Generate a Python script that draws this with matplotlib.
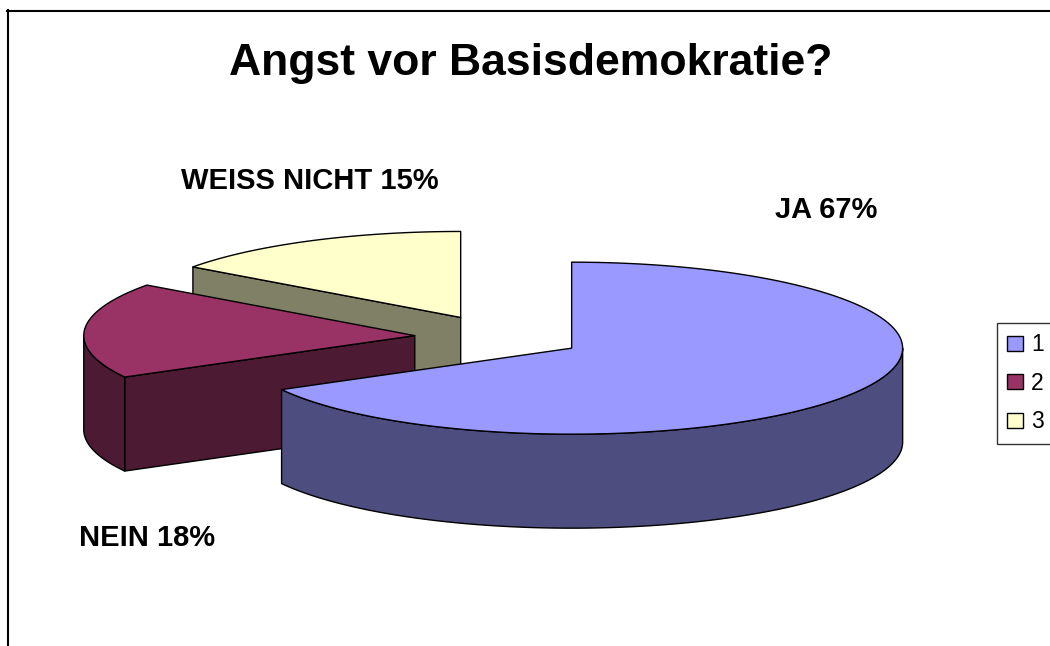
import numpy as np
import matplotlib.pyplot as plt
from matplotlib.patches import Polygon, Patch
from matplotlib.lines import Line2D

plt.rcParams['font.family'] = ['Liberation Sans', 'DejaVu Sans']

# data
categories = ['1', '2', '3']
answers = ['JA', 'NEIN', 'WEISS NICHT']
shares = [67, 18, 15]
top_colors = ['#9999FF', '#993366', '#FFFFCC']

W, H = 1050, 646
cx, cy, scale = 499, 337, 331      # pie centre and radius in pixels
ry = 86 / 331                      # vertical squash of the ellipse
depth = 94 / 331                   # thickness of the pie
explode = 0.255


def darker(c, f=0.5):
    r, g, b = [int(c[i:i + 2], 16) for i in (1, 3, 5)]
    return (r * f / 255, g * f / 255, b * f / 255)


def pt(a, ox, oy, z=0.0):
    t = np.radians(a)
    return (ox + np.sin(t), oy + np.cos(t) * ry - z)


def arc(a0, a1, ox, oy, z=0.0, n=120):
    angs = np.linspace(a0, a1, n)
    return [pt(a, ox, oy, z) for a in angs]


fig = plt.figure(figsize=(W / 100, H / 100), dpi=100)
ax = fig.add_axes([0, 0, 1, 1])
ax.set_xlim(-cx / scale, (W - cx) / scale)
ax.set_ylim(-(H - cy) / scale, cy / scale)
ax.axis('off')

total = sum(shares)
bounds = np.concatenate([[0], np.cumsum(shares) / total * 360])
slices = []
for i in range(len(shares)):
    a0, a1 = bounds[i], bounds[i + 1]
    m = np.radians((a0 + a1) / 2)
    ox, oy = explode * np.sin(m), explode * np.cos(m) * ry
    slices.append((oy, i, a0, a1, ox))

# paint back to front
for oy, i, a0, a1, ox in sorted(slices, reverse=True):
    side = darker(top_colors[i])
    kw = dict(edgecolor='black', linewidth=1.0, joinstyle='round')
    apex_t = (ox, oy)
    apex_b = (ox, oy - depth)
    # radial cut faces facing the viewer
    if np.sin(np.radians(a0)) < -1e-6:
        e_t = pt(a0, ox, oy)
        e_b = pt(a0, ox, oy, depth)
        ax.add_patch(Polygon([apex_t, e_t, e_b, apex_b], facecolor=side, **kw))
    if np.sin(np.radians(a1)) > 1e-6:
        e_t = pt(a1, ox, oy)
        e_b = pt(a1, ox, oy, depth)
        ax.add_patch(Polygon([apex_t, e_t, e_b, apex_b], facecolor=side, **kw))
    # outer wall, front half only
    s0, s1 = max(a0, 90), min(a1, 270)
    if s1 > s0:
        wall = arc(s0, s1, ox, oy) + arc(s1, s0, ox, oy, depth)
        ax.add_patch(Polygon(wall, facecolor=side, **kw))
    # top face
    top = [apex_t] + arc(a0, a1, ox, oy)
    ax.add_patch(Polygon(top, facecolor=top_colors[i], **kw))

# title and data labels
fig.text(531 / W, 1 - 63 / H, 'Angst vor Basisdemokratie?', ha='center', va='center',
         fontsize=32, fontweight='bold')
label_pos = [(826, 210), (147, 538), (310, 181)]
for (x, y), name, v in zip(label_pos, answers, shares):
    fig.text(x / W, 1 - y / H, f'{name} {v}%', ha='center', va='center',
             fontsize=21, fontweight='bold')

# legend
handles = [Patch(facecolor=c, edgecolor='black', linewidth=1.0) for c in top_colors]
leg = fig.legend(handles, categories, loc='upper left',
                 bbox_to_anchor=(997 / W, 1 - 323 / H), fontsize=16.5,
                 frameon=True, fancybox=False, handlelength=0.7, handleheight=0.65,
                 handletextpad=0.35, labelspacing=0.68, borderpad=0.45,
                 borderaxespad=0)
leg.get_frame().set_edgecolor('black')
leg.get_frame().set_linewidth(1.0)

# chart area border (runs off the right and bottom)
fig.add_artist(Line2D([7.5 / W, 7.5 / W], [0, 1 - 10 / H], color='black', linewidth=1.5))
fig.add_artist(Line2D([7 / W, 1], [1 - 10.5 / H, 1 - 10.5 / H], color='black', linewidth=1.5))

fig.savefig('out.png', dpi=100)
